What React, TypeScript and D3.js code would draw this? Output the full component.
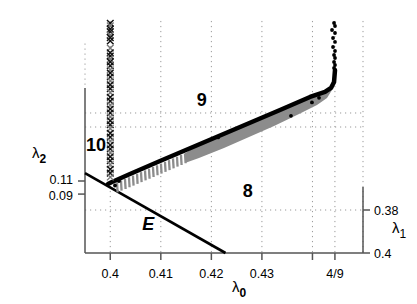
import * as d3 from "d3";
import React from "react";

// λ0 vs λ2 (left) / λ1 (right) overlay
const lambda0Ticks = [0.4, 0.41, 0.42, 0.43, 0.44, 4 / 9];
const lambda0Labels = ["0.4", "0.41", "0.42", "0.43", "", "4/9"];
const lambda2Ticks = [0.11, 0.09];
const lambda2Labels = ["0.11", "0.09"];
const lambda1Ticks = [0.38, 0.4];
const lambda1Labels = ["0.38", "0.4"];

const gridLambda0 = [0.4, 0.41, 0.42, 0.43, 0.44, 4 / 9, 0.45];
const gridLambda2 = [0.1925, 0.2139];
const gridLambda1 = [0.38];

// boundary E
const eLine: [number, number][] = [
  [0.395, 0.122],
  [0.4228, 0],
];

// crosses at λ0 = 0.4
const crossLambda2 = [
  0.351, 0.347, 0.342, 0.338, 0.333, 0.329, 0.324, 0.313, 0.306, 0.301, 0.296,
  0.292, 0.286, 0.28, 0.275, 0.269, 0.263, 0.257, 0.251, 0.245, 0.238, 0.232,
  0.226, 0.22, 0.214, 0.208, 0.202, 0.196, 0.19, 0.183, 0.177, 0.171, 0.165,
  0.159, 0.153, 0.147, 0.141, 0.135, 0.128, 0.122, 0.116,
];

// black branch
const blackLine: [number, number][] = [
  [0.39955, 0.1054],
  [0.40034, 0.1085],
  [0.4039, 0.1207],
  [0.40984, 0.1406],
  [0.41775, 0.1665],
  [0.42567, 0.1925],
  [0.43358, 0.2185],
  [0.43952, 0.2384],
  [0.44248, 0.246],
  [0.44367, 0.2521],
  [0.44427, 0.2613],
  [0.44446, 0.2796],
];

const blackDots: [number, number][] = [
  [0.44427, 0.3514],
  [0.44446, 0.3468],
  [0.44387, 0.3407],
  [0.44446, 0.3361],
  [0.44407, 0.3285],
  [0.44446, 0.3224],
  [0.44407, 0.3147],
  [0.44446, 0.3086],
  [0.44427, 0.3025],
  [0.44446, 0.2979],
  [0.44427, 0.2918],
  [0.44446, 0.2872],
  [0.44427, 0.2827],
  [0.43575, 0.2095],
  [0.42134, 0.1765],
  [0.4399, 0.2300],
  [0.44130, 0.2370],
  [0.40093, 0.1031],
  [0.40172, 0.11],
];

// gray streaks [λ0, top, bottom]
const grayStreaks: [number, number, number][] = [
  [0.40133, 0.1079, 0.0926],
  [0.40212, 0.1105, 0.0952],
  [0.40291, 0.1131, 0.0978],
  [0.4037, 0.1157, 0.1004],
  [0.40449, 0.1183, 0.103],
  [0.40529, 0.1209, 0.1056],
  [0.40608, 0.1236, 0.1083],
  [0.40687, 0.1262, 0.1109],
  [0.40766, 0.1288, 0.1135],
  [0.40845, 0.1314, 0.1161],
  [0.40924, 0.134, 0.1187],
  [0.41003, 0.1366, 0.1213],
  [0.41082, 0.1392, 0.1239],
  [0.41162, 0.1419, 0.1267],
  [0.41241, 0.1445, 0.1293],
  [0.4132, 0.1471, 0.1319],
  [0.41399, 0.1497, 0.1345],
  [0.41478, 0.1523, 0.1371],
];

const grayUpper: [number, number][] = [
  [0.41478, 0.1523],
  [0.41775, 0.1665],
  [0.42567, 0.1925],
  [0.43358, 0.2185],
  [0.43952, 0.2384],
  [0.44248, 0.246],
  [0.44387, 0.2521],
];
const grayLower: [number, number][] = [
  [0.41478, 0.1375],
  [0.41755, 0.1451],
  [0.4225, 0.1604],
  [0.42745, 0.1772],
  [0.4324, 0.194],
  [0.43734, 0.2124],
  [0.4409, 0.2261],
  [0.44288, 0.2368],
  [0.44387, 0.249],
];

const regionLabels: { text: string; l0: number; l2: number; italic?: boolean }[] = [
  { text: "9", l0: 0.4181, l2: 0.2246 },
  { text: "10", l0: 0.3972, l2: 0.1558 },
  { text: "8", l0: 0.4272, l2: 0.0856 },
  { text: "E", l0: 0.4075, l2: 0.0351, italic: true },
];

const FONT = "Liberation Sans, Arial, Helvetica, sans-serif";

export default function App() {
  const x = d3.scaleLinear().domain([0.395, 0.45]).range([85, 363]);
  const y2 = d3.scaleLinear().domain([0, 0.11]).range([253, 181]);
  const y1 = d3.scaleLinear().domain([0.38, 0.4]).range([210, 253]);

  const gridTop = y2(0.3545);
  const line = d3
    .line<[number, number]>()
    .x((d) => x(d[0]))
    .y((d) => y2(d[1]));

  const grayArea = line([...grayUpper, ...grayLower.slice().reverse()]) + "Z";
  const dotted = { stroke: "#999", strokeWidth: 1, strokeDasharray: "1.2 3.8" };

  return (
    <svg
      width={417}
      height={304}
      style={{ position: "absolute", left: 0, top: 0, background: "#fff" }}
      fontFamily={FONT}
    >
      {/* grid */}
      {gridLambda0.map((v, i) => (
        <line key={"gx" + i} x1={x(v)} x2={x(v)} y1={gridTop} y2={253} {...dotted} />
      ))}
      <line x1={85} x2={85} y1={y2(0.32)} y2={y2(0.252)} {...dotted} />
      {gridLambda2.map((v, i) => (
        <line key={"gy" + i} x1={85} x2={363} y1={y2(v)} y2={y2(v)} {...dotted} />
      ))}
      {gridLambda1.map((v, i) => (
        <line key={"g1" + i} x1={85} x2={363} y1={y1(v)} y2={y1(v)} {...dotted} />
      ))}

      {/* axes */}
      <g stroke="#555" strokeWidth={1.5}>
        <line x1={85} x2={85} y1={y2(0.252)} y2={253} />
        <line x1={85} x2={363} y1={253} y2={253} />
        <line x1={363} x2={363} y1={y1(0.3693)} y2={253} />
        {lambda0Ticks.map((v, i) => (
          <line key={"t0" + i} x1={x(v)} x2={x(v)} y1={253} y2={260} />
        ))}
        {lambda2Ticks.map((v, i) => (
          <line key={"t2" + i} x1={78} x2={85} y1={y2(v)} y2={y2(v)} />
        ))}
        {lambda1Ticks.map((v, i) => (
          <line key={"t1" + i} x1={363} x2={370} y1={y1(v)} y2={y1(v)} />
        ))}
      </g>
      <g fontSize={12.5} fill="#000">
        {lambda0Ticks.map((v, i) => (
          <text key={"l0" + i} x={x(v)} y={278} textAnchor="middle">
            {lambda0Labels[i]}
          </text>
        ))}
        {lambda2Ticks.map((v, i) => (
          <text key={"l2" + i} x={73} y={y2(v) + (i === 0 ? 3 : 5.5)} textAnchor="end">
            {lambda2Labels[i]}
          </text>
        ))}
        {lambda1Ticks.map((v, i) => (
          <text key={"l1" + i} x={374} y={y1(v) + 4.5}>
            {lambda1Labels[i]}
          </text>
        ))}
      </g>

      {/* axis titles */}
      <text x={232} y={292} fontSize={15}>
        λ<tspan fontSize={12} fontWeight="bold" dy={5}>0</tspan>
      </text>
      <text x={32} y={158} fontSize={15}>
        λ<tspan fontSize={12} fontWeight="bold" dy={5}>2</tspan>
      </text>
      <text x={392} y={233} fontSize={15}>
        λ<tspan fontSize={12} dy={5}>1</tspan>
      </text>

      {/* E boundary */}
      <path d={line(eLine) ?? ""} stroke="#000" strokeWidth={2.6} fill="none" />

      {/* gray branch */}
      <path d={grayArea} fill="#8c8c8c" />
      {grayStreaks.map((s, i) => (
        <line
          key={"gs" + i}
          x1={x(s[0])}
          x2={x(s[0]) + 0.6}
          y1={y2(s[1])}
          y2={y2(s[2])}
          stroke="#8c8c8c"
          strokeWidth={2.3}
        />
      ))}

      {/* black branch */}
      <path
        d={line(blackLine) ?? ""}
        stroke="#000"
        strokeWidth={4.5}
        fill="none"
        strokeLinejoin="round"
        strokeLinecap="round"
      />
      {blackDots.map((d, i) => (
        <circle key={"bd" + i} cx={x(d[0])} cy={y2(d[1])} r={1.9} fill="#000" />
      ))}

      {/* crosses */}
      {crossLambda2.map((v, i) => {
        const cx = x(0.4);
        const cy = y2(v);
        const h = 3.3;
        return (
          <path
            key={"cr" + i}
            d={`M${cx - h},${cy - h}L${cx + h},${cy + h}M${cx - h},${cy + h}L${cx + h},${cy - h}`}
            stroke={i % 3 === 1 ? "#777" : "#111"}
            strokeWidth={1.4}
            fill="none"
          />
        );
      })}

      {/* region labels */}
      {regionLabels.map((r, i) => (
        <text
          key={"rl" + i}
          x={x(r.l0)}
          y={y2(r.l2)}
          textAnchor="middle"
          fontSize={18}
          fontWeight="bold"
          fontStyle={r.italic ? "italic" : "normal"}
        >
          {r.text}
        </text>
      ))}
    </svg>
  );
}
